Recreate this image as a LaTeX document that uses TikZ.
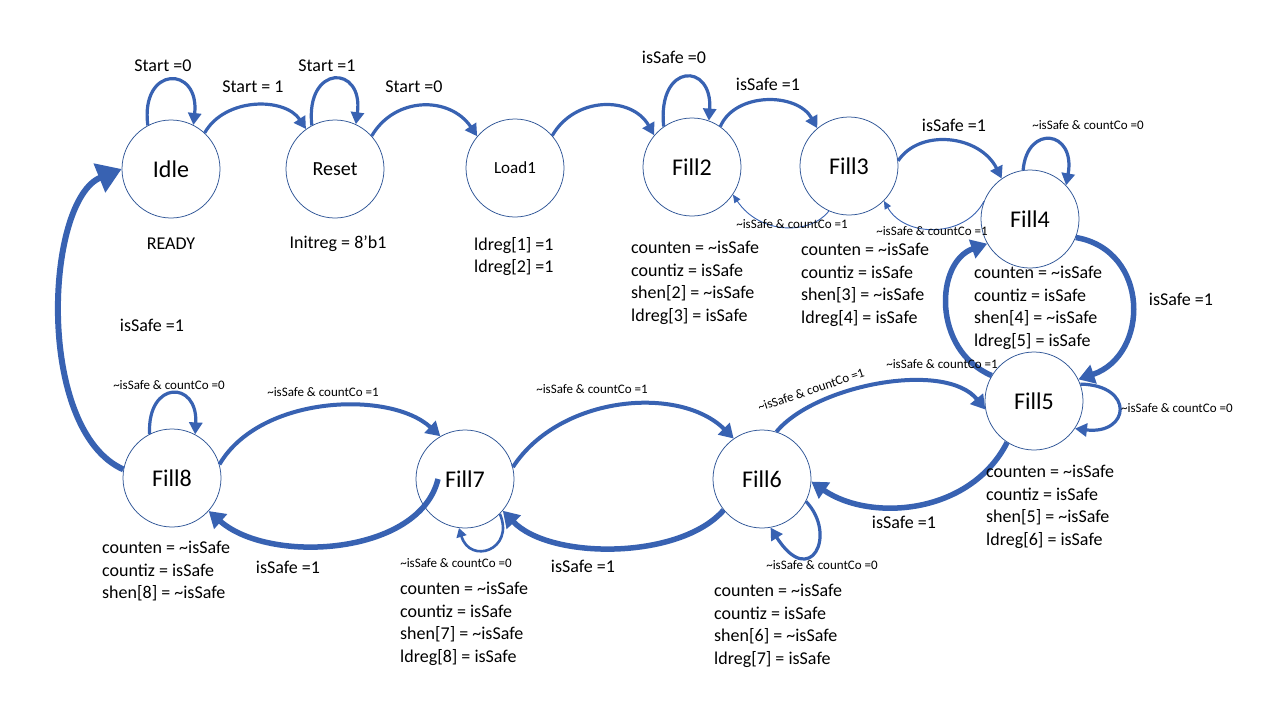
\documentclass[tikz,border=0pt]{standalone}
\usepackage{fontspec}
\setmainfont{Carlito}
\usetikzlibrary{arrows.meta}
\definecolor{arr}{RGB}{56,98,178}
\definecolor{ring}{RGB}{47,85,151}
\newcommand\sTil{\textasciitilde}
\begin{document}
\begin{tikzpicture}[x=1pt,y=-1pt,
  state/.style={circle,draw=ring,line width=0.75pt,minimum size=98pt,inner sep=0pt,font=\fontsize{24}{28}\selectfont},
  arc/.style={draw=arr,line width=3.2pt,-{Triangle[length=12pt,width=13pt]}},
  midarc/.style={draw=arr,line width=4pt,-{Triangle[length=14pt,width=16pt]}},
  heavy/.style={draw=arr,line width=5.5pt,-{Triangle[length=16pt,width=19pt]}},
  thinarc/.style={draw=arr,line width=0.9pt,-{Triangle[length=8pt,width=7pt]}},
  loopsm/.style={draw=arr,line width=2.6pt,-{Triangle[length=9pt,width=10pt]}},
  lbl/.style={font=\fontsize{18}{22}\selectfont,inner sep=0pt},
  sml/.style={font=\fontsize{13}{15}\selectfont,inner sep=0pt},
  outs/.style={font=\fontsize{18}{22.6}\selectfont,align=left,anchor=north west,inner sep=0pt},
]
\fill[white] (0,0) rectangle (1280,720);
\useasboundingbox (0,0) rectangle (1280,720);

% states
\node[state] (idle) at (171,169) {Idle};
\node[state,font=\fontsize{20}{24}\selectfont] (reset) at (335,169) {Reset};
\node[state,font=\fontsize{17}{20}\selectfont] (load1) at (515,168) {Load1};
\node[state] (fill2) at (692,167) {Fill2};
\node[state] (fill3) at (849,166) {Fill3};
\node[state] (fill4) at (1030,219) {Fill4};
\node[state] (fill5) at (1034,401) {Fill5};
\node[state] (fill6) at (762,479) {Fill6};
\node[state] (fill7) at (465,479) {Fill7};
\node[state] (fill8) at (172,478) {Fill8};

% top row transitions
\draw[arc] (idle.118) .. controls (140,65) and (200,65) .. (idle.63);
\draw[arc] (idle.47) .. controls (225,97) and (285,97) .. (reset.126);
\draw[arc] (reset.118) .. controls (305,64) and (364,64) .. (reset.65);
\draw[arc] (reset.42) .. controls (395,96) and (450,96) .. (load1.140);
\draw[arc] (load1.41) .. controls (575,96) and (632,96) .. (fill2.140);
\draw[arc] (fill2.125) .. controls (657,62) and (713,62) .. (fill2.70);
\draw[arc] (fill2.55) .. controls (735,92) and (797,92) .. (fill3.130);
\draw[thinarc] (fill3.246) .. controls (810,235) and (760,235) .. (fill2.-34);
\draw[arc] (fill3.6) .. controls (920,128) and (980,135) .. (fill4.125);
\draw[thinarc] (fill4.159) .. controls (965,238) and (905,238) .. (fill3.-45);
\draw[arc] (fill4.98) .. controls (1027,124) and (1076,130) .. (fill4.43);

% right side
\draw[heavy] (fill4.-22) .. controls (1150,250) and (1150,355) .. (fill5.26);
\draw[heavy] (fill5.149) .. controls (932,350) and (935,262) .. (fill4.210);
\draw[arc] (fill5.20) .. controls (1135,385) and (1130,435) .. (fill5.-34);

% bottom row
\draw[midarc] (fill6.73) .. controls (815,385) and (945,360) .. (fill5.190);
\draw[heavy] (fill5.237) .. controls (970,515) and (870,522) .. (fill6.-3);
\draw[arc] (fill6.-27) .. controls (838,535) and (810,590) .. (fill6.-80);
\draw[midarc] (fill7.14) .. controls (560,395) and (680,385) .. (fill6.125);
\draw[heavy] (fill6.219) .. controls (680,560) and (550,560) .. (fill7.-40);
\draw[loopsm] (fill7.-45) .. controls (515,550) and (470,565) .. (fill7.-97);
\draw[midarc] (fill8.16) .. controls (260,395) and (390,390) .. (fill7.120);
\draw[heavy] ([xshift=-27pt]fill7.center) .. controls (420,555) and (270,565) .. (fill8.-42);
\draw[arc] (fill8.117) .. controls (147,380) and (198,380) .. (fill8.62);
\draw[draw=arr,line width=6pt,-{Triangle[length=24pt,width=30pt]}] (fill8.170) .. controls (35,430) and (45,200) .. (idle.180);

% transition labels
\node[lbl] (l1) at (163,66) {Start =0};
\node[lbl] (l2) at (253,87) {Start = 1};
\node[lbl] (l3) at (327,66) {Start =1};
\node[lbl] (l4) at (414,87) {Start =0};
\node[lbl] (l5) at (674,57) {isSafe =0};
\node[lbl] (l6) at (768,84) {isSafe =1};
\node[lbl] (l7) at (954,125) {isSafe =1};
\node[sml] (l8) at (1088,125) {\sTil isSafe \& countCo =0};
\node[sml] (l9) at (792,224) {\sTil isSafe \& countCo =1};
\node[sml] (l10) at (932,231) {\sTil isSafe \& countCo =1};
\node[lbl] (l11) at (1181,299) {isSafe =1};
\node[sml,anchor=west] (l12) at (1121,408) {\sTil isSafe \& countCo =0};
\node[sml] (l13) at (942,364) {\sTil isSafe \& countCo =1};
\node[sml,rotate=18.5] (l14) at (811,390) {\sTil isSafe \& countCo =1};
\node[lbl] (l15) at (904,522) {isSafe =1};
\node[sml] (l16) at (822,565) {\sTil isSafe \& countCo =0};
\node[sml] (l17) at (592,389) {\sTil isSafe \& countCo =1};
\node[lbl] (l18) at (583,566) {isSafe =1};
\node[sml] (l19) at (456,563) {\sTil isSafe \& countCo =0};
\node[sml] (l20) at (323,392) {\sTil isSafe \& countCo =1};
\node[lbl] (l21) at (288,567) {isSafe =1};
\node[sml] (l22) at (169,385) {\sTil isSafe \& countCo =0};
\node[lbl] (l23) at (152,325) {isSafe =1};

% state outputs
\node[lbl] (o1) at (171,244) {READY};
\node[lbl] (o2) at (338,244) {Initreg = 8’b1};
\node[outs] (o3) at (474,237) {ldreg[1] =1\\ldreg[2] =1};
\node[outs] (o4) at (631,241) {counten = \sTil isSafe\\countiz = isSafe\\shen[2] = \sTil isSafe\\ldreg[3] = isSafe};
\node[outs] (o5) at (801,243) {counten = \sTil isSafe\\countiz = isSafe\\shen[3] = \sTil isSafe\\ldreg[4] = isSafe};
\node[outs] (o6) at (974,266) {counten = \sTil isSafe\\countiz = isSafe\\shen[4] = \sTil isSafe\\ldreg[5] = isSafe};
\node[outs] (o7) at (986,465) {counten = \sTil isSafe\\countiz = isSafe\\shen[5] = \sTil isSafe\\ldreg[6] = isSafe};
\node[outs] (o8) at (714,584) {counten = \sTil isSafe\\countiz = isSafe\\shen[6] = \sTil isSafe\\ldreg[7] = isSafe};
\node[outs] (o9) at (400,582) {counten = \sTil isSafe\\countiz = isSafe\\shen[7] = \sTil isSafe\\ldreg[8] = isSafe};
\node[outs] (o10) at (102,541) {counten = \sTil isSafe\\countiz = isSafe\\shen[8] = \sTil isSafe};
\end{tikzpicture}
\end{document}
